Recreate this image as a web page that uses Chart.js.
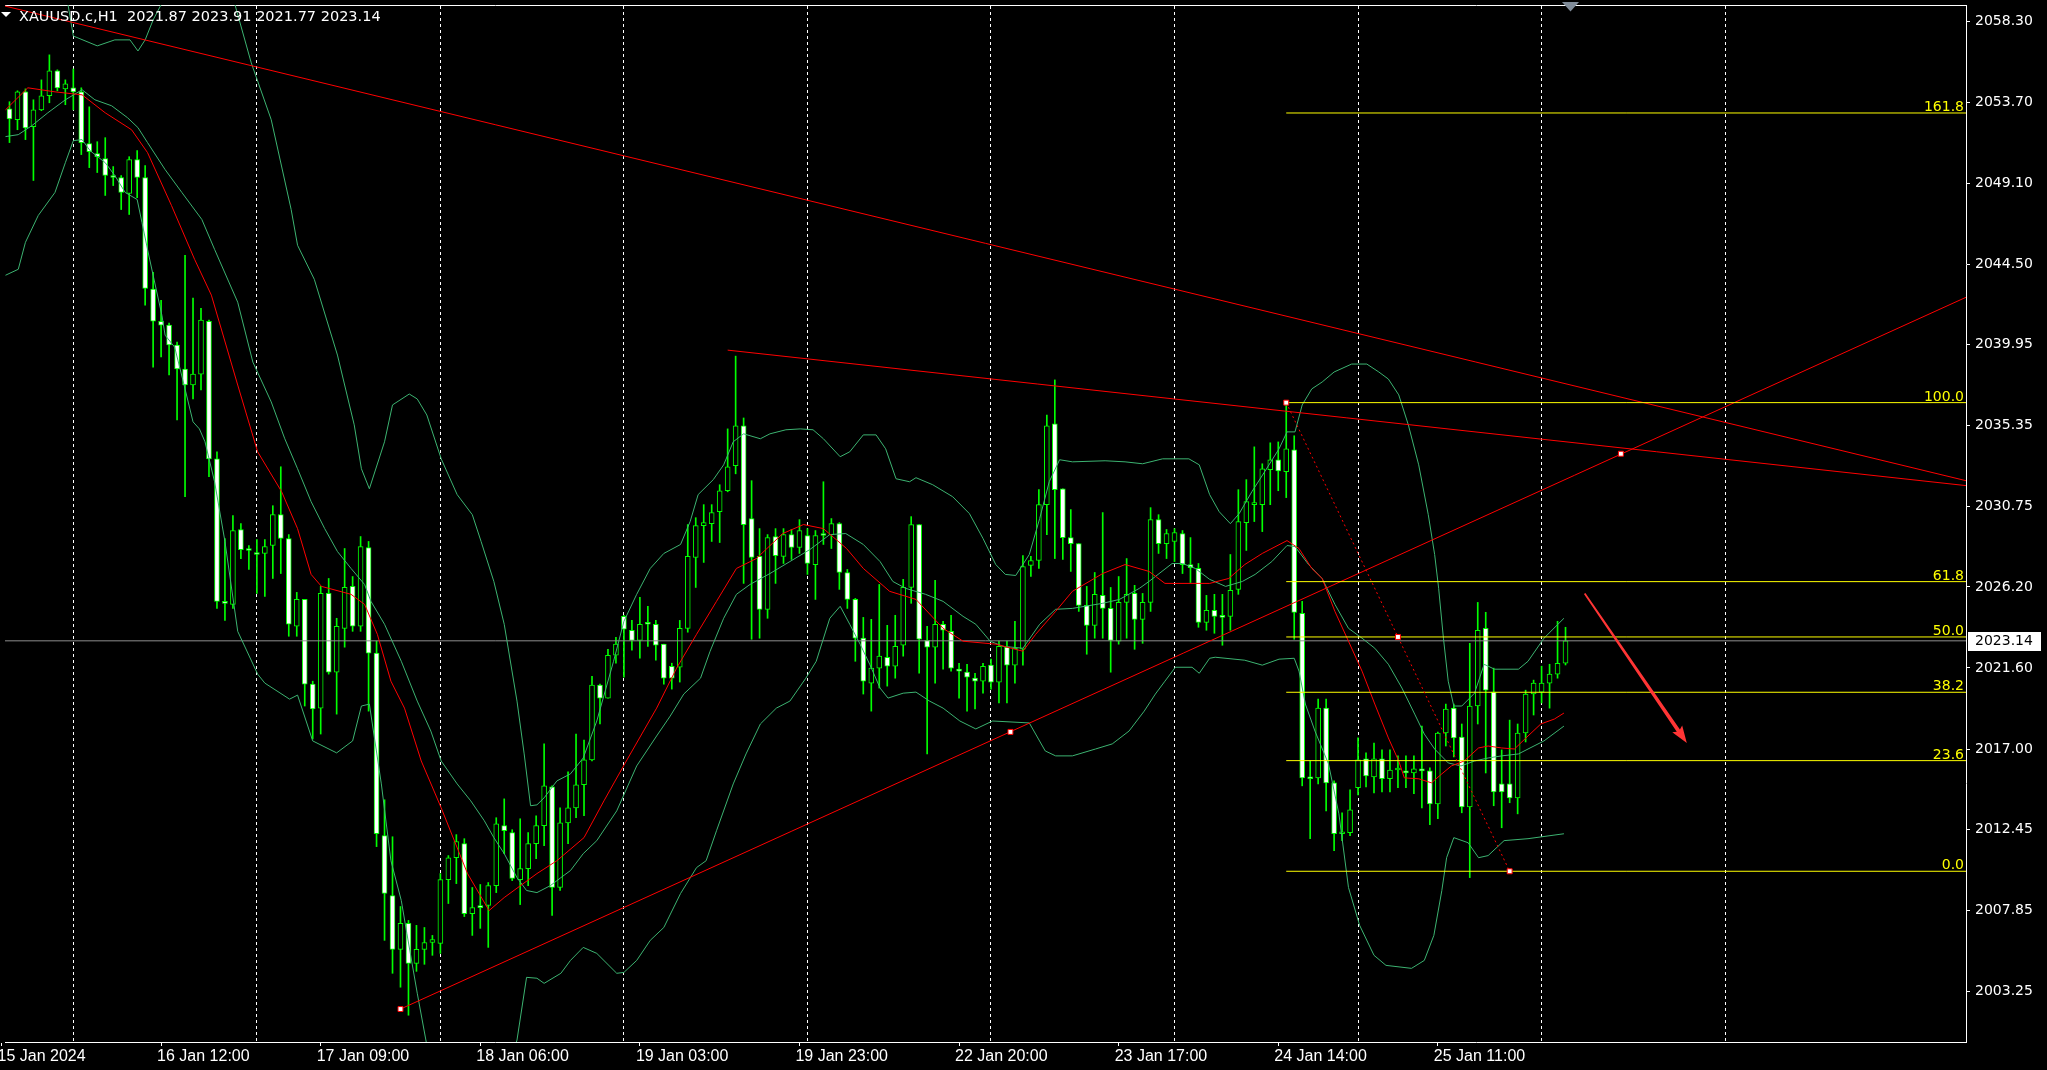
<!DOCTYPE html>
<html><head><meta charset="utf-8">
<script src="https://cdn.jsdelivr.net/npm/chart.js@4.4.1/dist/chart.umd.min.js"></script>
<style>html,body{margin:0;padding:0;background:#000;overflow:hidden}canvas{display:block}</style>
</head><body>
<canvas id="c" width="2047" height="1070"></canvas>
<script>
// ---- candles (XAUUSD.c H1) ----
const opens=[2053.34,2052.72,2054.30,2052.32,2053.28,2054.08,2055.49,2054.47,2054.53,2054.30,
2051.36,2050.79,2050.51,2049.55,2049.44,2048.53,2050.45,2049.44,2043.10,2041.28,
2041.06,2039.93,2038.57,2037.66,2038.28,2041.28,2033.47,2025.38,2025.21,2029.46,
2028.32,2028.15,2028.10,2028.55,2030.30,2028.95,2023.97,2025.49,2020.68,2019.32,
2025.83,2021.36,2023.85,2026.23,2023.97,2028.44,2022.44,2012.08,2008.68,2005.63,
2007.10,2004.83,2005.63,2006.02,2005.97,2009.59,2010.83,2011.63,2007.66,2008.06,
2008.12,2009.25,2012.65,2012.25,2009.59,2010.21,2011.63,2012.65,2014.85,2009.14,
2012.81,2013.66,2014.97,2016.38,2020.63,2019.89,2022.32,2024.53,2023.74,2023.17,
2024.13,2024.08,2022.95,2021.70,2021.64,2023.85,2027.87,2029.68,2029.79,2030.47,
2031.66,2033.08,2035.34,2030.08,2027.93,2024.93,2029.06,2027.93,2029.17,2028.44,
2029.12,2027.47,2029.17,2029.17,2029.79,2027.02,2025.49,2023.29,2020.74,2021.59,
2022.21,2021.70,2022.89,2026.17,2029.74,2023.17,2022.78,2024.08,2023.68,2021.53,
2021.36,2021.02,2020.85,2021.76,2020.80,2022.78,2021.76,2022.66,2027.42,2027.70,
2030.87,2035.46,2031.77,2029.00,2028.66,2025.15,2024.02,2025.72,2024.98,2023.12,
2025.32,2025.83,2024.36,2025.32,2030.02,2028.66,2028.78,2029.23,2027.47,2027.25,
2024.19,2024.87,2024.53,2024.53,2026.06,2029.85,2030.87,2030.87,2032.85,2033.42,
2032.74,2033.98,2024.70,2015.36,2015.36,2019.32,2015.08,2012.19,2012.25,2014.80,
2016.44,2015.42,2016.44,2015.31,2015.81,2015.76,2015.65,2015.87,2015.76,2013.89,
2017.91,2019.32,2017.68,2013.72,2019.44,2023.85,2020.23,2015.02,2015.02,2014.23,
2017.91,2020.12,2020.23,2020.74,2021.25,2021.87];
const highs=[2053.74,2054.36,2054.47,2053.85,2054.98,2056.40,2055.55,2054.98,2055.60,2054.53,
2053.45,2051.47,2051.70,2050.06,2049.55,2050.62,2050.96,2050.11,2044.06,2042.47,
2041.17,2040.10,2045.02,2042.59,2042.02,2041.34,2033.87,2028.95,2030.25,2029.79,
2028.55,2028.89,2028.89,2030.81,2033.02,2029.17,2025.89,2025.49,2020.85,2026.23,
2026.68,2024.42,2028.38,2026.79,2029.06,2028.78,2023.12,2014.12,2012.02,2008.06,
2007.27,2006.99,2006.87,2006.42,2009.93,2010.95,2012.14,2011.91,2009.14,2009.31,
2009.42,2013.10,2014.17,2012.42,2013.04,2012.25,2013.21,2017.29,2014.91,2013.66,
2015.70,2017.85,2017.51,2021.13,2020.68,2022.66,2023.34,2024.59,2024.30,2025.61,
2025.10,2024.30,2022.95,2021.87,2024.30,2029.74,2030.13,2030.87,2030.87,2032.00,
2035.17,2039.30,2035.79,2032.23,2029.51,2029.17,2029.51,2029.51,2029.46,2030.02,
2029.51,2029.40,2032.17,2030.08,2029.85,2027.19,2025.55,2024.47,2024.36,2026.34,
2024.02,2024.59,2026.63,2030.19,2029.74,2023.97,2026.57,2024.25,2024.59,2021.87,
2021.81,2021.30,2021.87,2022.10,2023.12,2023.12,2024.25,2027.98,2027.93,2031.72,
2035.96,2037.95,2031.77,2030.59,2028.66,2026.23,2027.02,2030.42,2026.17,2026.79,
2027.81,2026.29,2025.83,2030.70,2030.30,2029.46,2029.51,2029.40,2029.00,2027.53,
2025.72,2025.78,2025.78,2028.04,2031.72,2032.29,2034.15,2033.19,2034.38,2034.43,
2036.66,2034.78,2025.38,2016.32,2019.83,2019.83,2015.19,2013.38,2014.68,2017.63,
2016.78,2017.34,2016.95,2016.95,2016.61,2016.61,2016.61,2018.30,2015.93,2017.96,
2019.55,2019.55,2018.42,2023.00,2025.32,2024.76,2021.59,2016.95,2018.64,2018.42,
2020.34,2020.91,2021.70,2021.81,2024.25,2023.91];
const lows=[2051.42,2052.15,2051.59,2049.27,2053.23,2053.68,2054.36,2053.57,2053.28,2050.74,
2050.00,2049.72,2048.42,2048.98,2047.62,2047.34,2048.30,2042.19,2038.68,2039.25,
2038.23,2035.68,2031.32,2036.87,2037.38,2032.46,2024.98,2024.30,2024.98,2027.81,
2027.19,2025.83,2025.66,2026.68,2026.96,2023.40,2023.40,2019.44,2017.57,2017.85,
2021.25,2018.98,2022.78,2023.68,2023.68,2019.15,2011.46,2006.14,2004.27,2003.48,
2001.89,2004.38,2004.78,2005.29,2005.40,2008.23,2009.36,2007.49,2006.42,2006.82,
2005.74,2008.85,2011.06,2009.53,2008.17,2009.25,2010.78,2011.51,2007.55,2008.97,
2011.63,2013.10,2013.21,2016.32,2018.42,2019.89,2021.87,2021.08,2022.61,2022.15,
2022.83,2022.04,2020.68,2020.40,2020.80,2023.63,2026.17,2027.59,2028.78,2028.72,
2031.60,2032.62,2026.40,2023.23,2023.29,2024.42,2026.40,2027.53,2027.76,2028.10,
2026.91,2025.49,2028.61,2028.38,2026.06,2024.98,2021.98,2020.12,2019.15,2020.46,
2020.57,2021.02,2022.27,2025.27,2021.30,2016.72,2020.74,2021.53,2021.42,2019.89,
2019.15,2019.27,2020.17,2020.40,2019.61,2019.61,2020.74,2021.76,2026.79,2027.25,
2029.17,2027.81,2027.76,2027.08,2024.81,2022.38,2023.29,2023.29,2021.36,2022.95,
2023.29,2022.66,2023.00,2024.81,2028.10,2027.81,2027.64,2026.96,2026.45,2023.91,
2023.74,2023.57,2022.89,2023.74,2025.78,2028.27,2029.91,2029.34,2030.87,2031.66,
2031.27,2023.23,2014.91,2011.91,2015.02,2013.49,2011.23,2011.80,2012.08,2014.40,
2014.85,2014.51,2014.57,2014.57,2014.80,2014.80,2014.46,2013.66,2012.70,2013.04,
2017.17,2016.55,2013.38,2009.70,2018.42,2015.64,2013.78,2012.53,2013.95,2013.32,
2017.40,2018.93,2019.61,2019.32,2021.02,2021.77];
const closes=[2052.77,2054.30,2052.26,2053.28,2054.08,2055.49,2054.53,2054.76,2054.30,2051.42,
2050.91,2050.62,2049.55,2049.44,2048.59,2050.45,2049.44,2043.15,2041.28,2041.06,
2039.93,2038.57,2037.66,2038.28,2041.34,2033.47,2025.38,2025.27,2029.40,2028.32,
2028.27,2028.04,2028.49,2030.30,2028.95,2024.08,2025.49,2020.68,2019.27,2025.83,
2021.36,2023.97,2026.17,2023.97,2028.49,2022.44,2012.19,2008.80,2005.63,2007.10,
2004.83,2005.63,2006.02,2006.19,2009.59,2010.83,2011.74,2007.66,2008.00,2008.00,
2009.25,2012.76,2012.36,2009.65,2010.21,2011.63,2012.65,2014.91,2009.14,2012.81,
2013.66,2014.97,2016.38,2020.63,2019.89,2022.32,2022.95,2023.80,2023.17,2024.08,
2024.08,2022.89,2021.02,2021.02,2023.85,2027.93,2029.68,2029.85,2030.42,2031.66,
2033.02,2035.34,2029.74,2027.87,2024.93,2029.00,2027.98,2029.17,2028.44,2029.40,
2027.53,2029.12,2029.12,2029.79,2027.02,2025.49,2023.29,2020.85,2021.59,2022.27,
2021.70,2022.83,2026.17,2029.74,2023.23,2022.78,2024.08,2023.74,2021.59,2021.42,
2021.08,2020.85,2021.70,2020.80,2022.83,2021.76,2022.72,2027.36,2027.70,2030.87,
2035.34,2031.72,2029.00,2028.66,2025.15,2024.02,2025.78,2024.98,2023.17,2025.32,
2025.78,2024.36,2025.32,2030.02,2028.66,2029.23,2029.29,2027.47,2027.30,2024.19,
2024.87,2024.53,2024.47,2026.00,2029.91,2031.04,2030.93,2032.91,2033.42,2032.79,
2034.04,2024.76,2015.36,2015.31,2019.32,2015.08,2012.19,2012.25,2013.55,2016.38,
2015.47,2016.44,2015.31,2015.81,2015.87,2015.65,2015.87,2015.76,2013.89,2017.91,
2019.27,2017.63,2013.72,2019.44,2023.74,2020.34,2014.57,2014.57,2014.23,2017.91,
2020.12,2020.74,2020.74,2021.25,2021.87,2023.14];

// ---- indicator lines: [bar index, price] ----
const maLine=[[-0.5,2053.28],[2.3,2054.53],[5.7,2054.30],[9.1,2054.13],[12.0,2053.11],[15.3,2052.15],[17.3,2050.85],[20.3,2047.85],[23.2,2044.79],[25.3,2042.76],[28.6,2037.66],[31.1,2033.87],[34.1,2031.61],[36.1,2029.51],[37.8,2026.91],[39.1,2026.23],[42.8,2025.78],[44.5,2025.21],[46.1,2023.51],[47.8,2020.85],[49.5,2019.32],[51.6,2016.32],[54.1,2013.66],[57.4,2009.93],[60.1,2007.83],[62.0,2008.57],[66.1,2009.93],[68.6,2010.66],[72.0,2011.97],[74.5,2014.06],[77.3,2016.32],[81.1,2019.32],[83.6,2021.59],[86.1,2023.51],[88.6,2025.38],[91.1,2027.25],[93.6,2027.81],[96.9,2029.23],[99.5,2029.74],[102.0,2029.51],[104.9,2028.38],[107.0,2027.25],[110.3,2025.95],[113.6,2025.49],[117.0,2023.85],[119.5,2023.12],[123.6,2022.95],[127.0,2022.55],[128.6,2023.51],[131.1,2024.81],[133.2,2025.95],[137.0,2026.96],[139.8,2027.47],[142.8,2027.08],[144.8,2026.40],[150.4,2026.40],[152.8,2026.68],[154.8,2027.47],[157.0,2028.10],[160.1,2028.83],[161.6,2028.38],[163.2,2027.25],[164.5,2026.68],[166.1,2024.81],[167.8,2023.12],[169.5,2021.42],[171.1,2019.55],[172.8,2017.63],[174.1,2016.32],[174.8,2015.36],[176.6,2015.31],[178.2,2015.08],[179.5,2015.59],[180.7,2016.04],[182.3,2016.32],[184.1,2017.06],[185.3,2017.17],[187.0,2017.06],[188.6,2017.00],[190.3,2017.74],[191.9,2018.42],[193.6,2018.70],[194.8,2019.04]];
const bbUpper=[[-0.5,2061.04],[4.5,2060.76],[7.3,2059.34],[8.0,2057.47],[11.0,2056.91],[13.2,2057.25],[15.1,2057.25],[16.1,2056.62],[17.0,2057.25],[18.0,2058.38],[19.1,2059.34],[21.3,2061.60],[24.5,2062.17],[27.0,2060.76],[28.2,2059.34],[30.3,2055.94],[32.8,2052.72],[35.3,2047.62],[36.1,2045.59],[38.2,2043.66],[41.1,2039.36],[43.2,2035.40],[44.1,2032.91],[45.1,2031.77],[47.0,2034.44],[48.0,2036.53],[50.1,2037.15],[51.1,2036.87],[52.3,2035.96],[54.1,2033.47],[56.1,2031.44],[58.0,2030.30],[59.1,2028.78],[60.7,2026.51],[62.0,2024.08],[63.6,2019.72],[64.5,2016.72],[65.3,2013.78],[66.1,2013.83],[67.0,2014.23],[68.6,2015.19],[70.3,2015.59],[71.9,2016.49],[73.6,2018.59],[75.7,2021.98],[77.0,2024.25],[78.6,2025.78],[80.3,2027.25],[82.0,2028.10],[84.1,2028.61],[85.3,2029.91],[86.3,2031.44],[88.2,2032.29],[89.5,2033.13],[90.7,2034.44],[92.0,2034.89],[94.1,2034.61],[95.3,2034.89],[97.3,2035.12],[99.1,2035.17],[100.7,2035.12],[102.0,2034.61],[104.1,2033.59],[105.3,2033.87],[107.0,2034.83],[108.6,2034.83],[109.8,2034.04],[111.1,2032.34],[112.8,2032.17],[113.6,2032.40],[115.7,2032.00],[118.2,2031.32],[120.3,2030.36],[122.0,2028.95],[123.6,2027.47],[124.8,2026.91],[126.1,2026.85],[127.8,2028.04],[129.1,2030.08],[130.3,2032.17],[131.6,2033.42],[133.2,2033.30],[137.3,2033.36],[139.8,2033.30],[142.0,2033.19],[144.5,2033.47],[147.8,2033.47],[149.1,2033.13],[150.4,2031.44],[151.6,2030.47],[153.0,2029.79],[154.1,2030.36],[155.7,2031.61],[157.3,2032.74],[159.1,2034.04],[160.1,2035.00],[161.1,2035.00],[162.0,2036.53],[163.2,2037.44],[164.5,2037.83],[166.0,2038.40],[168.2,2038.85],[170.1,2038.85],[171.6,2038.40],[172.8,2038.00],[174.1,2037.10],[175.3,2035.40],[176.6,2033.13],[177.8,2030.30],[178.6,2028.04],[179.1,2026.12],[179.7,2023.29],[180.3,2020.85],[181.0,2019.44],[182.0,2019.44],[183.6,2020.17],[184.8,2021.81],[186.1,2021.53],[189.1,2021.53],[190.3,2021.98],[192.3,2023.29],[194.8,2024.42]];
const bbMiddle=[[-0.5,2051.76],[1.1,2051.87],[2.8,2052.38],[4.8,2053.11],[7.0,2053.85],[9.1,2054.42],[10.7,2053.85],[12.8,2053.51],[14.8,2052.83],[16.1,2052.27],[17.3,2051.42],[19.5,2049.89],[21.6,2048.59],[24.1,2047.06],[25.7,2045.36],[28.6,2042.36],[30.5,2038.96],[32.8,2036.70],[34.5,2034.61],[36.1,2032.91],[37.8,2031.04],[39.5,2029.51],[41.1,2028.21],[42.8,2027.25],[44.5,2026.34],[45.3,2025.38],[47.0,2024.08],[49.1,2021.98],[51.1,2019.72],[52.8,2018.02],[54.1,2016.32],[56.1,2015.02],[57.8,2014.06],[59.5,2012.93],[60.7,2011.97],[62.0,2011.06],[63.6,2009.70],[64.8,2008.97],[66.1,2008.85],[67.8,2009.25],[69.1,2009.70],[70.3,2010.10],[71.9,2011.06],[73.6,2011.80],[76.1,2013.49],[78.6,2016.04],[81.1,2017.74],[82.8,2018.87],[84.5,2020.12],[86.6,2021.02],[87.8,2022.55],[89.5,2024.42],[91.1,2025.78],[92.8,2026.34],[95.3,2026.96],[97.8,2027.64],[100.3,2028.32],[102.8,2029.17],[104.8,2029.23],[107.0,2028.61],[109.1,2027.64],[110.7,2026.51],[112.3,2026.12],[114.8,2025.78],[117.0,2025.38],[119.5,2024.53],[121.1,2024.08],[122.9,2023.12],[124.5,2022.83],[127.0,2022.72],[129.1,2024.08],[131.1,2024.93],[133.2,2024.98],[137.0,2025.27],[139.1,2025.49],[141.6,2026.12],[142.8,2026.51],[145.7,2027.53],[147.0,2027.53],[148.6,2027.25],[150.4,2026.63],[152.4,2026.23],[154.5,2026.51],[156.1,2026.91],[158.2,2027.64],[160.1,2028.55],[161.1,2028.49],[162.8,2027.47],[164.5,2026.68],[166.1,2025.21],[167.8,2023.85],[169.5,2023.29],[171.1,2022.72],[172.8,2021.81],[174.5,2020.46],[176.1,2018.98],[177.3,2017.85],[178.6,2017.00],[180.3,2016.21],[181.9,2016.04],[183.6,2016.32],[185.3,2016.49],[187.0,2016.61],[189.1,2016.72],[190.3,2017.00],[192.3,2017.46],[194.8,2018.30]];
const bbLower=[[-0.5,2043.89],[1.1,2044.23],[2.0,2045.76],[3.6,2047.28],[5.7,2048.59],[7.0,2050.28],[8.0,2051.53],[9.1,2051.59],[10.1,2050.96],[12.0,2050.28],[13.2,2049.55],[14.5,2048.59],[16.0,2048.19],[16.6,2046.89],[17.3,2045.36],[18.0,2043.89],[19.1,2041.62],[19.5,2040.49],[20.7,2039.81],[22.0,2037.44],[23.0,2035.57],[23.8,2035.17],[24.5,2034.44],[25.7,2032.17],[27.0,2028.78],[28.6,2023.68],[31.1,2021.25],[32.0,2020.74],[35.1,2019.83],[36.1,2020.06],[38.0,2017.46],[41.0,2016.78],[43.0,2017.46],[44.1,2019.44],[45.1,2019.55],[46.6,2015.02],[47.8,2010.66],[49.1,2008.40],[49.8,2006.53],[51.1,2003.14],[52.3,2000.19],[54.5,1997.93],[58.2,1997.08],[62.0,1998.21],[63.6,2000.48],[64.8,2004.04],[66.1,2003.99],[67.0,2003.70],[69.1,2004.27],[70.3,2005.00],[71.9,2005.74],[73.6,2005.40],[76.1,2004.27],[77.0,2004.32],[78.6,2005.00],[80.3,2006.14],[82.0,2006.87],[84.1,2008.80],[86.1,2010.27],[87.3,2010.66],[88.6,2012.36],[90.7,2015.02],[92.3,2016.72],[94.1,2018.42],[96.1,2019.32],[97.8,2019.72],[99.8,2021.02],[101.1,2021.98],[102.8,2024.42],[104.1,2025.10],[105.3,2024.08],[106.6,2022.95],[107.8,2021.81],[109.1,2020.46],[110.1,2019.89],[112.0,2020.17],[113.6,2020.23],[115.3,2019.72],[117.0,2019.32],[119.1,2018.59],[121.1,2018.14],[123.2,2018.59],[127.8,2018.48],[129.8,2016.89],[131.1,2016.61],[133.2,2016.61],[136.1,2017.00],[138.2,2017.29],[140.3,2018.02],[142.2,2019.15],[143.6,2020.12],[144.8,2020.85],[146.1,2021.64],[148.2,2021.64],[149.1,2021.30],[150.4,2022.15],[151.1,2022.21],[154.8,2022.04],[157.0,2021.76],[159.1,2022.10],[161.0,2022.15],[161.6,2021.42],[162.4,2019.55],[163.6,2018.02],[165.3,2016.15],[166.6,2013.32],[167.8,2009.14],[169.2,2006.99],[171.0,2005.29],[172.5,2004.72],[175.7,2004.55],[177.3,2005.00],[178.5,2006.42],[179.5,2008.97],[180.1,2010.83],[181.0,2011.97],[182.8,2011.68],[184.1,2010.83],[185.3,2010.95],[187.3,2011.80],[190.3,2011.91],[194.8,2012.19]];

// ---- drawn objects ----
const trendA=[[-0.5625,2059.17],[245.1875,2032.23]];
const trendB=[[90.0,2039.64],[245.1875,2031.95]];
const trendC=[[49.0,2002.24],[245.1875,2042.64]];
const fibSwing=[[160,2036.66],[188,2010.06]];
const fibStartIdx=160;
const fibLabels=['161.8','100.0','61.8','50.0','38.2','23.6','0.0'];
const fibPrices=[2053.10,2036.66,2026.50,2023.36,2020.22,2016.34,2010.06];
const markerPts=[[49.0,2002.24],[125.44,2017.97],[201.94,2033.76],[160,2036.66],[174,2023.36],[188,2010.06]];
const arrowFrom=[197.4,2025.83];
const arrowTo=[210.2,2017.34];
const lastPrice=2023.14;
const headerText='XAUUSD.c,H1  2021.87 2023.91 2021.77 2023.14';

// ---- axes ----
const yTickValues=[2058.30,2053.70,2049.10,2044.50,2039.95,2035.35,2030.75,2026.20,2021.60,2017.00,2012.45,2007.85,2003.25];
const timeTickIdx=[-1,19,39,59,79,99,119,139,159,179];
const timeTickLabels=['15 Jan 2024','16 Jan 12:00','17 Jan 09:00','18 Jan 06:00','19 Jan 03:00','19 Jan 23:00','22 Jan 20:00','23 Jan 17:00','24 Jan 14:00','25 Jan 11:00'];
const sepIdx=[8,31,54,77,100,123,146,169,192,215];
const xMin=-0.5625, xMax=245.1875, yMin=2000.37, yMax=2059.23;

const idx=opens.map((_,i)=>i);
const P=a=>a.map(([x,y])=>({x,y}));
const lineDs=(data,color,order,extra)=>Object.assign({type:'line',data:P(data),borderColor:color,borderWidth:1,pointRadius:0,pointHoverRadius:0,fill:false,tension:0,order},extra||{});

const datasets=[
  {type:'bar',data:idx.map(i=>({x:i,y:[lows[i],highs[i]]})),backgroundColor:'#00ff00',borderWidth:0,barThickness:1,grouped:false,order:20},
  {type:'bar',data:idx.map(i=>({x:i,y:[opens[i],closes[i]]})),backgroundColor:idx.map(i=>closes[i]<opens[i]?'#ffffff':'#000000'),borderColor:'#00ff00',borderWidth:1,borderSkipped:false,barThickness:5,minBarLength:2,grouped:false,order:19},
  lineDs([[xMin,lastPrice],[xMax,lastPrice]],'#8e8e8e',15),
  lineDs(bbUpper,'#3cb371',12),
  lineDs(bbMiddle,'#3cb371',12),
  lineDs(bbLower,'#3cb371',12),
  lineDs(maLine,'#ff0000',11),
  lineDs(trendA,'#ff0000',8),
  lineDs(trendB,'#ff0000',8),
  lineDs(trendC,'#ff0000',8),
  ...fibPrices.map(p=>lineDs([[fibStartIdx,p],[xMax,p]],'#ffff00',7)),
  lineDs(fibSwing,'#ff0000',6,{borderDash:[2,3]}),
  {type:'line',data:P(markerPts),showLine:false,pointStyle:'rect',pointRadius:3.5,pointBackgroundColor:'#ffffff',pointBorderColor:'#ff0000',pointBorderWidth:1,order:1}
];

const bgPlugin={id:'bg',beforeDraw(c){const g=c.ctx;g.save();g.fillStyle='#000';g.fillRect(0,0,c.width,c.height);g.restore();}};
const overlay={id:'overlay',
  afterDatasetsDraw(c){
    const g=c.ctx,xs=c.scales.x,ys=c.scales.y;
    g.save();
    g.font='14px "DejaVu Sans"';g.fillStyle='#ffff00';g.textAlign='right';g.textBaseline='alphabetic';
    fibPrices.forEach((p,k)=>g.fillText(fibLabels[k],1964,ys.getPixelForValue(p)-2));
    const x1=xs.getPixelForValue(arrowFrom[0]),y1=ys.getPixelForValue(arrowFrom[1]);
    const x2=xs.getPixelForValue(arrowTo[0]),y2=ys.getPixelForValue(arrowTo[1]);
    const ang=Math.atan2(y2-y1,x2-x1),len=Math.hypot(x2-x1,y2-y1);
    g.translate(x1,y1);g.rotate(ang);
    g.beginPath();g.moveTo(0,-0.9);g.lineTo(len-15,-1.9);g.lineTo(len-17,-6);g.lineTo(len,0);g.lineTo(len-17,6);g.lineTo(len-15,1.9);g.lineTo(0,0.9);g.closePath();
    g.fillStyle='#ff3535';g.fill();
    g.restore();
  },
  afterDraw(c){
    const g=c.ctx,ys=c.scales.y;
    g.save();
    g.fillStyle='#ffffff';
    g.beginPath();g.moveTo(1,12);g.lineTo(11,12);g.lineTo(6,17);g.closePath();g.fill();
    g.font='14.5px "DejaVu Sans"';g.textAlign='left';g.textBaseline='alphabetic';
    g.fillText(headerText,19,20.5);
    g.fillStyle='#7f8b98';
    g.beginPath();g.moveTo(1562,2);g.lineTo(1579,2);g.lineTo(1570.5,11.5);g.closePath();g.fill();
    const py=ys.getPixelForValue(lastPrice);
    g.fillStyle='#ffffff';g.fillRect(1968,Math.round(py)-9,73,19);
    g.fillStyle='#000000';g.font='14px "DejaVu Sans"';g.textBaseline='middle';
    g.fillText(lastPrice.toFixed(2),1975,Math.round(py)+0.5);
    g.restore();
  }
};

new Chart(document.getElementById('c'),{
  type:'bar',
  data:{datasets},
  plugins:[bgPlugin,overlay],
  options:{
    responsive:false,animation:false,devicePixelRatio:1,events:[],
    layout:{padding:{top:2,left:0,right:0,bottom:0}},
    plugins:{legend:{display:false},tooltip:{enabled:false}},
    scales:{
      x:{type:'linear',position:'bottom',min:xMin,max:xMax,offset:false,
        afterBuildTicks:s=>{s.ticks=timeTickIdx.map(v=>({value:v}));},
        afterFit:s=>{s.height=28;s.paddingLeft=0;s.paddingRight=0;},
        grid:{offset:false,drawOnChartArea:false,drawTicks:true,tickLength:4,color:'#ffffff'},
        border:{display:true,color:'#ffffff',width:1},
        ticks:{color:'#ffffff',font:{family:"'Liberation Sans Narrow','Liberation Sans'",size:16},padding:1,labelOffset:-4,align:'start',maxRotation:0,minRotation:0,autoSkip:false,
          callback:(v,i)=>timeTickLabels[i]}},
      xSep:{type:'linear',position:'top',min:xMin,max:xMax,offset:false,
        afterBuildTicks:s=>{s.ticks=sepIdx.map(v=>({value:v}));},
        afterFit:s=>{s.height=0;s.paddingLeft=0;s.paddingRight=0;},
        grid:{offset:false,drawOnChartArea:true,drawTicks:false,color:'#ffffff',lineWidth:1},
        border:{display:true,color:'#ffffff',width:1,dash:[3,3]},
        ticks:{display:false}},
      y:{type:'linear',position:'right',min:yMin,max:yMax,
        afterBuildTicks:s=>{s.ticks=yTickValues.map(v=>({value:v}));},
        afterFit:s=>{s.width=81;s.paddingTop=0;s.paddingBottom=0;},
        grid:{drawOnChartArea:false,drawTicks:true,tickLength:4,color:'#ffffff'},
        border:{display:true,color:'#ffffff',width:1},
        ticks:{color:'#ffffff',font:{family:'DejaVu Sans',size:14},padding:5,autoSkip:false,callback:v=>Number(v).toFixed(2)}}
    }
  }
});
</script>
</body></html>
